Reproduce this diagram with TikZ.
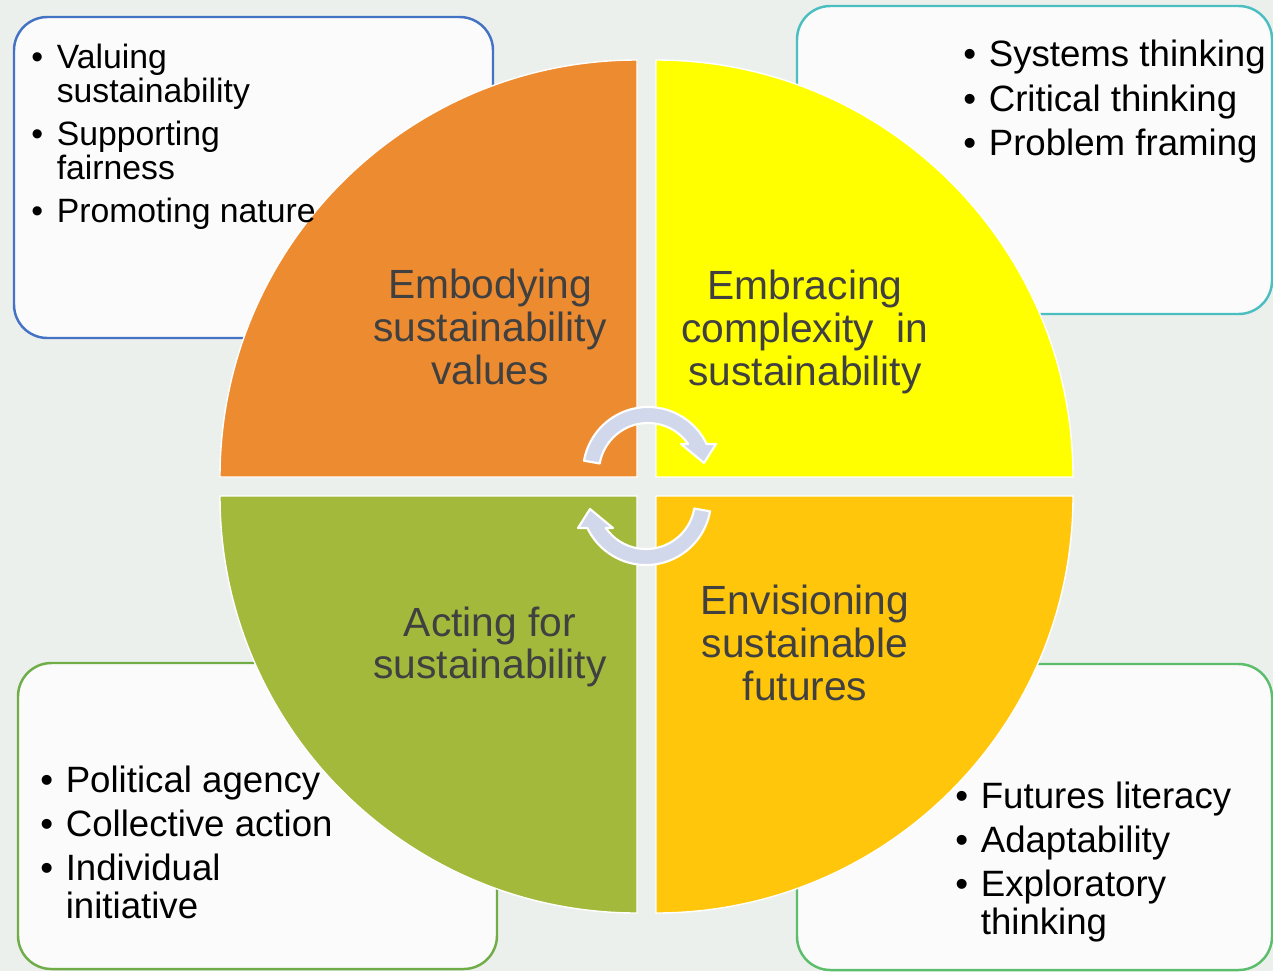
\documentclass[tikz,border=0pt]{standalone}
\usepackage{fontspec}
\setmainfont{Liberation Sans}
\usetikzlibrary{positioning}

\definecolor{bgcol}{HTML}{ECF0ED}
\definecolor{boxfill}{HTML}{FBFBFB}
\definecolor{tlline}{HTML}{4472C4}
\definecolor{trline}{HTML}{4BBFC0}
\definecolor{blline}{HTML}{70AD47}
\definecolor{brline}{HTML}{5CBD6B}
\definecolor{qorange}{HTML}{ED8B30}
\definecolor{qyellow}{HTML}{FFFF00}
\definecolor{qgreen}{HTML}{A2B93B}
\definecolor{qamber}{HTML}{FFC60B}
\definecolor{lbltext}{HTML}{404040}
\definecolor{cycfill}{HTML}{D2D8EB}

\newcommand{\bul}{\makebox[14.5pt][l]{\textbullet}}
\newcommand{\bulind}{\hspace*{14.5pt}}

\begin{document}
\begin{tikzpicture}[x=0.02cm,y=-0.02cm,
    box/.style={fill=boxfill, line width=1.4pt, rounded corners=19pt},
    quad/.style={draw=white, line width=0.8pt},
    lbl/.style={text=lbltext, align=center, inner sep=0pt,
      font=\fontsize{23.2}{24.4}\selectfont},
    lst/.style={text=black, align=left, inner sep=0pt, anchor=north west,
      font=\fontsize{20.85}{21.6}\selectfont},
    cyc/.style={fill=cycfill, draw=white, line width=1.2pt, line join=round}]
  \useasboundingbox (0,0) rectangle (1273,971);
  \fill[bgcol] (0,0) rectangle (1273,971);

  % boxes behind the circle
  \draw[box, draw=tlline] (14,17) rectangle (493,338);
  \draw[box, draw=trline] (797,6) rectangle (1272,314);
  \draw[box, draw=blline] (18,663) rectangle (497,969);
  \draw[box, draw=brline] (797,664) rectangle (1272,970);

  % four quarters of the circle
  \draw[quad, fill=qorange] (637,477) -- (220,477) arc[start angle=180, end angle=270, radius=417] -- cycle;
  \draw[quad, fill=qyellow] (656,477) -- (656,60) arc[start angle=270, end angle=360, radius=417] -- cycle;
  \draw[quad, fill=qamber] (656,496) -- (1073,496) arc[start angle=0, end angle=90, radius=417] -- cycle;
  \draw[quad, fill=qgreen] (637,496) -- (637,913) arc[start angle=90, end angle=180, radius=417] -- cycle;

  % cycle arrows
  \foreach \cx/\cy/\rot in {648/472/0, 646/500/180} {
    \begin{scope}[shift={(\cx,\cy)}, yscale=-1, rotate=\rot]
      \draw[cyc] (170:49) -- (170:65) arc[start angle=170, end angle=25.5, radius=65]
        -- (68,28) -- (56,9) -- (33,28) -- (40.2,28)
        arc[start angle=34.8, end angle=170, radius=49] -- cycle;
    \end{scope}
  }

  \node[lbl] (embody) at (490,327) {Embodying\\sustainability\\values};
  \node[lbl] (embrace) at (805,332) {Embracing\\complexity\ \ in\\sustainability};
  \node[lbl] (acting) at (490,647) {Acting for\\sustainability};
  \node[lbl] (envision) at (805,643) {Envisioning\\sustainable\\futures};

  \node[lst, font=\fontsize{19.2}{19.2}\selectfont] (values) at (31,44)
    {\bul Valuing\\\bulind sustainability\\[5.4pt]\bul Supporting\\\bulind fairness\\[5.4pt]\bul Promoting nature};
  \node[lst] (thinking) at (963,40)
    {\bul Systems thinking\\[3.6pt]\bul Critical thinking\\[3.6pt]\bul Problem framing};
  \node[lst] (agency) at (40,766)
    {\bul Political agency\\[3.4pt]\bul Collective action\\[3.4pt]\bul Individual\\\bulind initiative};
  \node[lst] (futures) at (955,782)
    {\bul Futures literacy\\[3.4pt]\bul Adaptability\\[3.4pt]\bul Exploratory\\\bulind thinking};
\end{tikzpicture}
\end{document}
